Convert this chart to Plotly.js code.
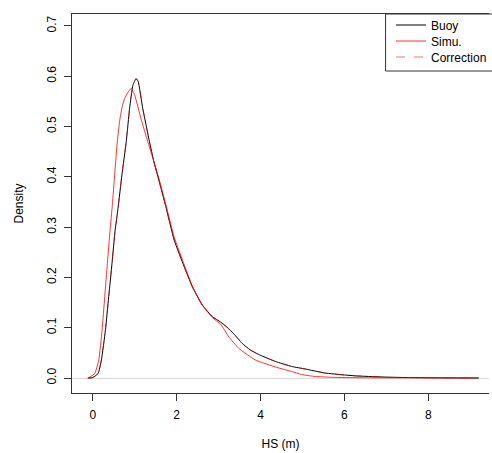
<!DOCTYPE html>
<html>
<head>
<meta charset="utf-8">
<script src="https://cdn.plot.ly/plotly-3.0.1.min.js"></script>
<style>html,body{margin:0;padding:0;background:#fff;}</style>
</head>
<body>
<div id="chart" style="width:492px;height:453px;"></div>
<script>
// Buoy density
var buoyX = [-0.12, 0.0, 0.126, 0.205, 0.3, 0.379, 0.457, 0.53, 0.6, 0.694, 0.797, 0.876, 0.955, 1.03, 1.08, 1.19, 1.35, 1.45, 1.585, 1.74, 1.94, 2.18, 2.37, 2.61, 2.85, 3.05, 3.2, 3.36, 3.56, 3.75, 3.95, 4.35, 4.74, 5.06, 5.53, 6.0, 6.32, 7.1, 8.0, 9.2];
var buoyY = [0.0, 0.001, 0.009, 0.036, 0.095, 0.162, 0.228, 0.293, 0.337, 0.404, 0.47, 0.536, 0.582, 0.595, 0.59, 0.536, 0.47, 0.432, 0.39, 0.341, 0.274, 0.221, 0.182, 0.145, 0.122, 0.111, 0.101, 0.088, 0.069, 0.056, 0.047, 0.033, 0.023, 0.018, 0.010, 0.006, 0.004, 0.0015, 0.0005, 0.0];
// Simulation density
var simuX = [-0.11, 0.047, 0.142, 0.22, 0.284, 0.347, 0.41, 0.466, 0.52, 0.575, 0.64, 0.7, 0.76, 0.83, 0.915, 1.0, 1.15, 1.31, 1.42, 1.585, 1.74, 1.94, 2.18, 2.37, 2.61, 2.85, 3.05, 3.24, 3.48, 3.87, 4.39, 4.74, 4.98, 5.3, 5.8, 6.5, 8.0, 9.2];
var simuY = [0.0, 0.009, 0.036, 0.095, 0.162, 0.228, 0.293, 0.345, 0.404, 0.462, 0.512, 0.54, 0.556, 0.567, 0.576, 0.562, 0.515, 0.47, 0.44, 0.394, 0.345, 0.28, 0.225, 0.183, 0.145, 0.12, 0.107, 0.082, 0.059, 0.036, 0.021, 0.013, 0.007, 0.003, 0.0012, 0.0005, 0.0002, 0.0];
// Corrected density
var corrX = [-0.12, 0.0, 0.126, 0.205, 0.3, 0.379, 0.457, 0.53, 0.6, 0.694, 0.797, 0.876, 0.955, 1.03, 1.08, 1.19, 1.35, 1.45, 1.585, 1.74, 1.94, 2.18, 2.37, 2.61, 2.85, 3.05, 3.2, 3.36, 3.56, 3.75, 3.95, 4.35, 4.74, 5.06, 5.53, 6.0, 6.32, 7.1, 8.0, 9.2];
var corrY = [0.0, 0.001, 0.009, 0.036, 0.095, 0.162, 0.228, 0.293, 0.337, 0.404, 0.47, 0.536, 0.582, 0.596, 0.59, 0.536, 0.47, 0.432, 0.39, 0.341, 0.274, 0.221, 0.182, 0.145, 0.122, 0.111, 0.101, 0.088, 0.069, 0.056, 0.047, 0.033, 0.023, 0.018, 0.010, 0.006, 0.004, 0.0015, 0.0005, 0.0];

var seriesNames = ["Buoy", "Simu.", "Correction"];
var xTicks = [0, 2, 4, 6, 8];
var yTicks = [0, 0.1, 0.2, 0.3, 0.4, 0.5, 0.6, 0.7];

var font = {family: "Liberation Sans, Arial, sans-serif", size: 12, color: "#000"};

var traces = [
  {x: buoyX, y: buoyY, name: seriesNames[0], type: "scatter", mode: "lines", legend: "legend",
   line: {color: "#000000", width: 1, shape: "spline", smoothing: 0.4}},
  {x: simuX, y: simuY, name: seriesNames[1], type: "scatter", mode: "lines", legend: "legend2",
   line: {color: "rgba(255,0,0,0.8)", width: 1, shape: "spline", smoothing: 0.4}},
  {x: corrX, y: corrY, name: seriesNames[2], type: "scatter", mode: "lines", legend: "legend3",
   line: {color: "rgba(255,0,0,0.55)", width: 1, dash: "dash", shape: "spline", smoothing: 0.4}}
];

function leg(ypx) {
  return {x: 0.765, xanchor: "left", y: (393 - ypx) / 379, yanchor: "middle",
          bgcolor: "rgba(0,0,0,0)", borderwidth: 0, font: font};
}

var layout = {
  width: 492, height: 453,
  margin: {l: 72, r: 0, t: 14, b: 60, pad: 0},
  paper_bgcolor: "#fff", plot_bgcolor: "#fff",
  font: font,
  showlegend: true,
  legend: leg(25), legend2: leg(41), legend3: leg(57),
  xaxis: {
    range: [-0.497, 9.447], tickvals: xTicks, ticktext: xTicks.map(String),
    ticks: "outside", ticklen: 7, tickcolor: "#333", showgrid: false, zeroline: false,
    showline: true, linecolor: "#333", linewidth: 1, mirror: true,
    ticklabelstandoff: 4,
    title: {text: "HS (m)", font: font, standoff: 18},
    tickfont: font
  },
  yaxis: {
    range: [-0.0298, 0.7237], tickvals: yTicks, ticktext: yTicks.map(function(v){return v.toFixed(1);}),
    ticks: "outside", ticklen: 7, tickcolor: "#333", showgrid: false,
    zeroline: true, zerolinecolor: "#d9d9d9", zerolinewidth: 1,
    showline: true, linecolor: "#333", linewidth: 1, mirror: false,
    tickangle: -90, ticklabelstandoff: 3,
    title: {text: "Density", font: font, standoff: 19},
    tickfont: font
  },
  shapes: [
    {type: "rect", xref: "paper", yref: "paper", x0: 0.752, x1: 1.1, y0: 0.8496, y1: 1.0,
     line: {color: "#333", width: 1}, fillcolor: "rgba(255,255,255,0)", layer: "above"}
  ]
};

Plotly.newPlot("chart", traces, layout, {displayModeBar: false, staticPlot: true});
</script>
</body>
</html>
